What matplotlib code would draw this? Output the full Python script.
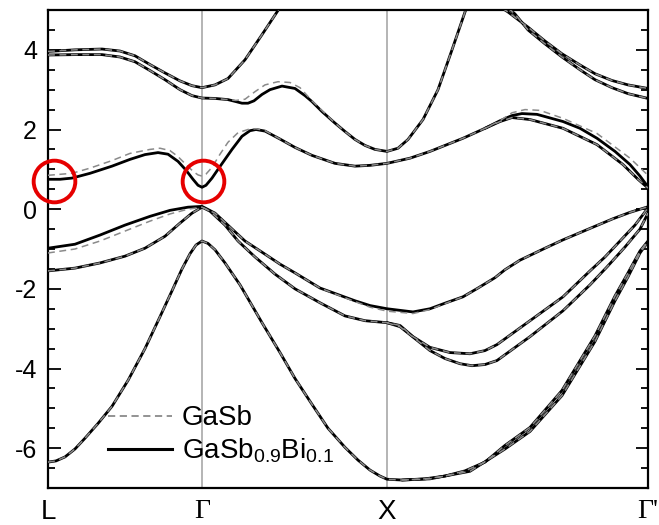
import matplotlib
matplotlib.use("Agg")
import matplotlib.pyplot as plt
from matplotlib.lines import Line2D
from matplotlib.ticker import MultipleLocator

plt.rcParams['font.family'] = ['Liberation Sans', 'DejaVu Sans']
plt.rcParams['axes.unicode_minus'] = False
plt.rcParams['mathtext.fontset'] = 'custom'
plt.rcParams['mathtext.rm'] = 'Liberation Sans'
plt.rcParams['mathtext.it'] = 'Liberation Sans:italic'

# High-symmetry points along the k-path (path length, arbitrary units)
k_ticks = [0.0, 1.54, 3.39, 6.00]
k_labels = ['L', 'Γ', 'X', "Γ'"]

# ---------------- GaSb0.9Bi0.1 bands (eV) ----------------
bi_c4_k = [0.0, 0.27, 0.54, 0.72, 0.87, 1.02, 1.17, 1.32, 1.44, 1.54, 1.67, 1.80, 1.97, 2.14, 2.29, 2.34]
bi_c4_e = [3.96, 4.0, 4.02, 3.97, 3.85, 3.63, 3.42, 3.22, 3.1, 3.05, 3.12, 3.28, 3.75, 4.38, 4.95, 5.15]

bi_c3_k = [0.0, 0.27, 0.54, 0.72, 0.87, 1.02, 1.17, 1.32, 1.44, 1.54, 1.67, 1.80, 1.88, 1.94, 2.00,
           2.06, 2.14, 2.22, 2.34, 2.47, 2.57, 2.64, 2.74, 2.87, 2.97, 3.07, 3.17, 3.27, 3.39, 3.50,
           3.60, 3.75, 3.90, 4.04, 4.17, 4.22]
bi_c3_e = [3.87, 3.88, 3.88, 3.82, 3.7, 3.48, 3.25, 3.0, 2.85, 2.79, 2.78, 2.75, 2.7, 2.66, 2.66,
           2.72, 2.88, 3.0, 3.09, 3.03, 2.85, 2.7, 2.45, 2.16, 1.95, 1.75, 1.6, 1.5, 1.45, 1.53,
           1.75, 2.25, 3.0, 4.0, 4.95, 5.3]

bi_c1_k = [0.0, 0.12, 0.24, 0.42, 0.64, 0.82, 0.97, 1.10, 1.20, 1.30, 1.38, 1.45, 1.50, 1.54, 1.58,
           1.64, 1.70, 1.77, 1.84, 1.94, 2.02, 2.08, 2.17, 2.32, 2.47, 2.64, 2.87, 3.07, 3.22, 3.39,
           3.62, 3.82, 4.15, 4.37, 4.52, 4.64, 4.74, 4.89, 5.15, 5.32, 5.49, 5.67, 5.82, 5.92, 6.0]
bi_c1_e = [0.75, 0.75, 0.78, 0.9, 1.08, 1.25, 1.37, 1.42, 1.38, 1.2, 0.98, 0.75, 0.6, 0.55, 0.6,
           0.78, 1.0, 1.25, 1.5, 1.83, 1.97, 2.0, 1.96, 1.76, 1.55, 1.35, 1.15, 1.08, 1.1, 1.15,
           1.28, 1.45, 1.78, 2.03, 2.22, 2.35, 2.4, 2.38, 2.2, 2.03, 1.78, 1.45, 1.12, 0.83, 0.56]

bi_c1b_k = [4.37, 4.52, 4.64, 4.82, 5.15, 5.49, 5.75, 5.90, 6.0]
bi_c1b_e = [2.03, 2.2, 2.3, 2.25, 2.03, 1.62, 1.12, 0.75, 0.53]

bi_c5_k = [4.54, 4.60, 4.80, 4.97, 5.14, 5.32, 5.47, 5.64, 5.80, 6.0]
bi_c5_e = [5.05, 4.95, 4.57, 4.22, 3.9, 3.62, 3.4, 3.23, 3.12, 3.03]

bi_c6_k = [4.60, 4.67, 4.80, 4.97, 5.14, 5.32, 5.47, 5.64, 5.80, 6.0]
bi_c6_e = [5.05, 4.9, 4.5, 4.15, 3.82, 3.5, 3.25, 3.05, 2.9, 2.78]

bi_v1_k = [0.0, 0.27, 0.52, 0.77, 1.02, 1.22, 1.40, 1.54, 1.67, 1.82, 1.97, 2.14, 2.32, 2.47,
           2.72, 3.07, 3.22, 3.39, 3.65, 3.82, 3.97, 4.15, 4.30, 4.47, 4.57, 4.72, 4.97, 5.15,
           5.47, 5.65, 5.82, 6.0]
bi_v1_e = [-0.98, -0.88, -0.65, -0.4, -0.18, -0.03, 0.05, 0.07, -0.1, -0.45, -0.8, -1.08, -1.38, -1.6,
           -1.98, -2.3, -2.42, -2.5, -2.58, -2.5, -2.36, -2.2, -1.98, -1.72, -1.52, -1.28, -0.98, -0.77,
           -0.43, -0.24, -0.08, 0.06]

bi_v2_k = [0.0, 0.27, 0.52, 0.77, 0.97, 1.17, 1.32, 1.44, 1.54, 1.62, 1.77, 1.90, 2.07, 2.27, 2.47,
           2.72, 2.97, 3.17, 3.39, 3.52, 3.65, 3.82, 4.02, 4.22, 4.37, 4.49, 4.82, 5.15, 5.42, 5.57,
           5.72, 5.87, 6.0]
bi_v2_e = [-1.55, -1.48, -1.35, -1.18, -0.98, -0.68, -0.35, -0.1, 0.05, -0.05, -0.4, -0.8, -1.2, -1.63, -2.0,
           -2.35, -2.68, -2.8, -2.85, -2.92, -3.2, -3.47, -3.6, -3.63, -3.55, -3.4, -2.8, -2.2, -1.55, -1.2,
           -0.8, -0.4, 0.03]

bi_v3_k = [3.39, 3.52, 3.67, 3.82, 3.97, 4.12, 4.24, 4.37, 4.49, 4.82, 5.15, 5.42, 5.59, 5.77, 5.92, 6.0]
bi_v3_e = [-2.85, -2.95, -3.25, -3.55, -3.75, -3.88, -3.93, -3.9, -3.8, -3.2, -2.55, -1.9, -1.45, -0.95, -0.5, -0.1]

bi_v4_k = [0.0, 0.08, 0.17, 0.27, 0.37, 0.50, 0.64, 0.80, 0.97, 1.12, 1.24, 1.34, 1.42, 1.48, 1.54,
           1.60, 1.67, 1.77, 1.92, 2.14, 2.32, 2.47, 2.64, 2.80, 2.97, 3.10, 3.22, 3.32, 3.39,
           3.54, 3.77, 3.97, 4.17, 4.37, 4.57, 4.82, 5.14, 5.47, 5.67, 5.80, 5.92, 6.0]
bi_v4_e = [-6.35, -6.32, -6.22, -6.02, -5.75, -5.38, -4.95, -4.3, -3.5, -2.7, -2.05, -1.5, -1.12, -0.9, -0.8,
           -0.86, -1.02, -1.35, -1.9, -2.85, -3.6, -4.25, -4.9, -5.5, -5.98, -6.3, -6.55, -6.7, -6.78,
           -6.8, -6.77, -6.7, -6.57, -6.35, -5.93, -5.48, -4.55, -3.18, -2.18, -1.6, -1.05, -0.8]

bi_v5_k = [3.54, 3.82, 4.22, 4.57, 4.82, 5.14, 5.47, 5.67, 5.80, 5.92, 6.0]
bi_v5_e = [-6.8, -6.77, -6.58, -6.02, -5.58, -4.68, -3.32, -2.3, -1.7, -1.1, -0.82]

# ---------------- GaSb bands (eV), where they differ ----------------
ga_c1_k = [0.0, 0.24, 0.42, 0.64, 0.82, 1.02, 1.12, 1.22, 1.30, 1.38, 1.45, 1.50, 1.54, 1.58, 1.64,
           1.72, 1.80, 1.90, 2.00, 2.08, 2.17, 2.32, 2.47, 2.64, 2.87, 3.07, 3.22, 3.39, 3.62, 3.82,
           4.15, 4.37, 4.52, 4.64, 4.77, 4.92, 5.15, 5.49, 5.82, 6.0]
ga_c1_e = [0.85, 0.9, 1.03, 1.22, 1.4, 1.5, 1.53, 1.47, 1.32, 1.12, 0.95, 0.86, 0.83, 0.88, 1.05,
           1.38, 1.68, 1.92, 2.0, 2.02, 1.97, 1.76, 1.55, 1.35, 1.15, 1.08, 1.1, 1.15, 1.28, 1.45,
           1.78, 2.03, 2.22, 2.42, 2.5, 2.48, 2.28, 1.9, 1.28, 0.85]

ga_c3_k = [0.0, 0.27, 0.54, 0.72, 0.87, 1.02, 1.17, 1.32, 1.44, 1.54, 1.67, 1.80, 1.88, 1.97, 2.07,
           2.17, 2.30, 2.42, 2.52, 2.64, 2.87, 2.97, 3.07, 3.17, 3.27, 3.39, 3.50, 3.60, 3.75, 3.90,
           4.04, 4.17, 4.22]
ga_c3_e = [3.87, 3.88, 3.88, 3.82, 3.7, 3.48, 3.25, 3.0, 2.85, 2.79, 2.78, 2.75, 2.73, 2.76, 2.95,
           3.12, 3.2, 3.18, 3.05, 2.72, 2.16, 1.95, 1.75, 1.6, 1.5, 1.45, 1.53, 1.75, 2.25, 3.0,
           4.0, 4.95, 5.3]

ga_v1_k = bi_v1_k
ga_v1_e = [-1.1, -1.0, -0.8, -0.55, -0.3, -0.12, 0.0, 0.05, -0.1, -0.45, -0.8, -1.08, -1.38, -1.6,
           -1.98, -2.32, -2.46, -2.56, -2.62, -2.52, -2.37, -2.2, -1.98, -1.72, -1.52, -1.28, -0.98, -0.77,
           -0.43, -0.24, -0.08, 0.06]

bi_bands = [(bi_c1_k, bi_c1_e), (bi_c1b_k, bi_c1b_e), (bi_c3_k, bi_c3_e), (bi_c4_k, bi_c4_e),
            (bi_c5_k, bi_c5_e), (bi_c6_k, bi_c6_e), (bi_v1_k, bi_v1_e), (bi_v2_k, bi_v2_e),
            (bi_v3_k, bi_v3_e), (bi_v4_k, bi_v4_e), (bi_v5_k, bi_v5_e)]
ga_bands = [(ga_c1_k, ga_c1_e), (bi_c1b_k, bi_c1b_e), (ga_c3_k, ga_c3_e), (bi_c4_k, bi_c4_e),
            (bi_c5_k, bi_c5_e), (bi_c6_k, bi_c6_e), (ga_v1_k, ga_v1_e), (bi_v2_k, bi_v2_e),
            (bi_v3_k, bi_v3_e), (bi_v4_k, bi_v4_e), (bi_v5_k, bi_v5_e)]

# Points where the band edges change most
highlight_k = [0.06, 1.545]
highlight_e = [0.7, 0.7]

fig = plt.figure(figsize=(6.59, 5.25), dpi=100)
ax = fig.add_axes([48 / 659, 1 - 488 / 525, 600 / 659, 478 / 525])

for kk in k_ticks[1:3]:
    ax.axvline(kk, color='#a0a0a0', lw=1.1, zorder=1)

for kk, ee in bi_bands:
    ax.plot(kk, ee, color='black', lw=2.0, solid_joinstyle='round', solid_capstyle='round', zorder=2)
for kk, ee in ga_bands:
    ax.plot(kk, ee, color='#8a8a8a', lw=1.1, ls=(0, (4.5, 3)), zorder=3)

ax.plot(highlight_k, highlight_e, ls='none', marker='o', ms=30, mfc='none', mec='#e60000',
        mew=2.8, clip_on=False, zorder=5)

ax.set_xlim(0, 6.0)
ax.set_ylim(-7, 5)
ax.set_yticks([-6, -4, -2, 0, 2, 4])
ax.yaxis.set_minor_locator(MultipleLocator(0.5))
ax.tick_params(axis='y', which='both', direction='in', left=True, right=True, labelsize=18, pad=8)
ax.tick_params(axis='y', which='major', length=9, width=1.3)
ax.tick_params(axis='y', which='minor', length=5, width=1.3)
ax.set_xticks(k_ticks)
ax.set_xticklabels(k_labels)
ax.tick_params(axis='x', length=0, labelsize=20, pad=8)
for lab in ax.get_xticklabels():
    if 'Γ' in lab.get_text():
        lab.set_fontfamily(['Liberation Serif', 'DejaVu Serif'])
for sp in ax.spines.values():
    sp.set_linewidth(1.6)

handles = [Line2D([], [], color='#8a8a8a', lw=1.3, ls=(0, (4, 2.5))),
           Line2D([], [], color='black', lw=2.2)]
ax.legend(handles, ['GaSb', r'GaSb$_{0.9}$Bi$_{0.1}$'], loc='center left',
          bbox_to_anchor=(0.1, 0.11), frameon=False, fontsize=20, handlelength=2.3,
          handletextpad=0.35, labelspacing=0.2, borderpad=0, borderaxespad=0)

fig.savefig('out.png', dpi=100)
